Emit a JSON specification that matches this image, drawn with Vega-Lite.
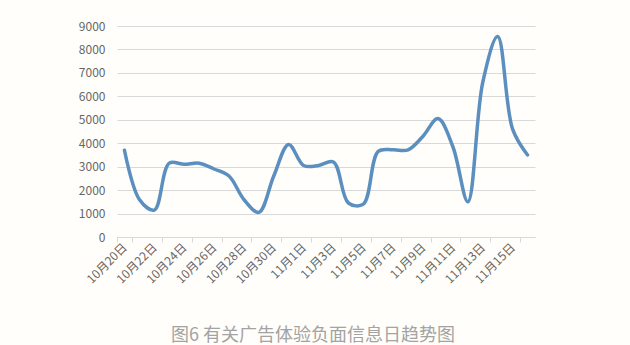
{
  "$schema": "https://vega.github.io/schema/vega-lite/v6.json",
  "width": 418,
  "height": 211,
  "autosize": "none",
  "padding": {"left": 117, "top": 26, "right": 95, "bottom": 108},
  "background": "#fffefa",
  "title": {
    "text": "图6 有关广告体验负面信息日趋势图",
    "orient": "bottom",
    "anchor": "middle",
    "frame": "group",
    "font": "Noto Sans CJK SC",
    "fontSize": 18,
    "fontWeight": "normal",
    "color": "#a3a3a3",
    "dx": -13,
    "offset": 42
  },
  "data": {
    "values": [
      {"date": "10月20日", "count": 3700},
      {"date": "10月21日", "count": 1600},
      {"date": "10月22日", "count": 1150},
      {"date": "10月23日", "count": 3150},
      {"date": "10月24日", "count": 3100},
      {"date": "10月25日", "count": 3150},
      {"date": "10月26日", "count": 2900},
      {"date": "10月27日", "count": 2600},
      {"date": "10月28日", "count": 1600},
      {"date": "10月29日", "count": 1050},
      {"date": "10月30日", "count": 2600},
      {"date": "10月31日", "count": 3950},
      {"date": "11月1日", "count": 3050},
      {"date": "11月2日", "count": 3050},
      {"date": "11月3日", "count": 3200},
      {"date": "11月4日", "count": 1450},
      {"date": "11月5日", "count": 1400},
      {"date": "11月6日", "count": 3650},
      {"date": "11月7日", "count": 3720},
      {"date": "11月8日", "count": 3720},
      {"date": "11月9日", "count": 4300},
      {"date": "11月10日", "count": 5050},
      {"date": "11月11日", "count": 3850},
      {"date": "11月12日", "count": 1500},
      {"date": "11月13日", "count": 6600},
      {"date": "11月14日", "count": 8550},
      {"date": "11月15日", "count": 4600},
      {"date": "11月16日", "count": 3500}
    ]
  },
  "mark": {
    "type": "line",
    "interpolate": "catmull-rom",
    "stroke": "#5b8fbf",
    "strokeWidth": 3.5,
    "strokeCap": "round",
    "strokeJoin": "round"
  },
  "encoding": {
    "x": {
      "field": "date",
      "type": "ordinal",
      "sort": null,
      "scale": {"type": "band", "paddingInner": 0, "paddingOuter": 0},
      "axis": {
        "title": null,
        "values": ["10月20日", "10月22日", "10月24日", "10月26日", "10月28日", "10月30日", "11月1日", "11月3日", "11月5日", "11月7日", "11月9日", "11月11日", "11月13日", "11月15日"],
        "tickBand": "extent",
        "labelAngle": -45,
        "labelAlign": "right",
        "labelBaseline": "middle",
        "labelPadding": 3,
        "labelFont": "Noto Sans CJK SC",
        "labelFontSize": 12,
        "labelColor": "#666666",
        "domainColor": "#d9d9d9",
        "tickColor": "#d9d9d9",
        "tickSize": 5,
        "grid": false
      }
    },
    "y": {
      "field": "count",
      "type": "quantitative",
      "scale": {"domain": [0, 9000], "nice": false, "zero": true},
      "axis": {
        "title": null,
        "values": [0, 1000, 2000, 3000, 4000, 5000, 6000, 7000, 8000, 9000],
        "format": "d",
        "domain": false,
        "ticks": false,
        "labelPadding": 12,
        "labelFont": "Noto Sans CJK SC",
        "labelFontSize": 12,
        "labelColor": "#666666",
        "gridColor": "#d9d9d9",
        "gridWidth": 1
      }
    }
  },
  "config": {"view": {"stroke": null}}
}
